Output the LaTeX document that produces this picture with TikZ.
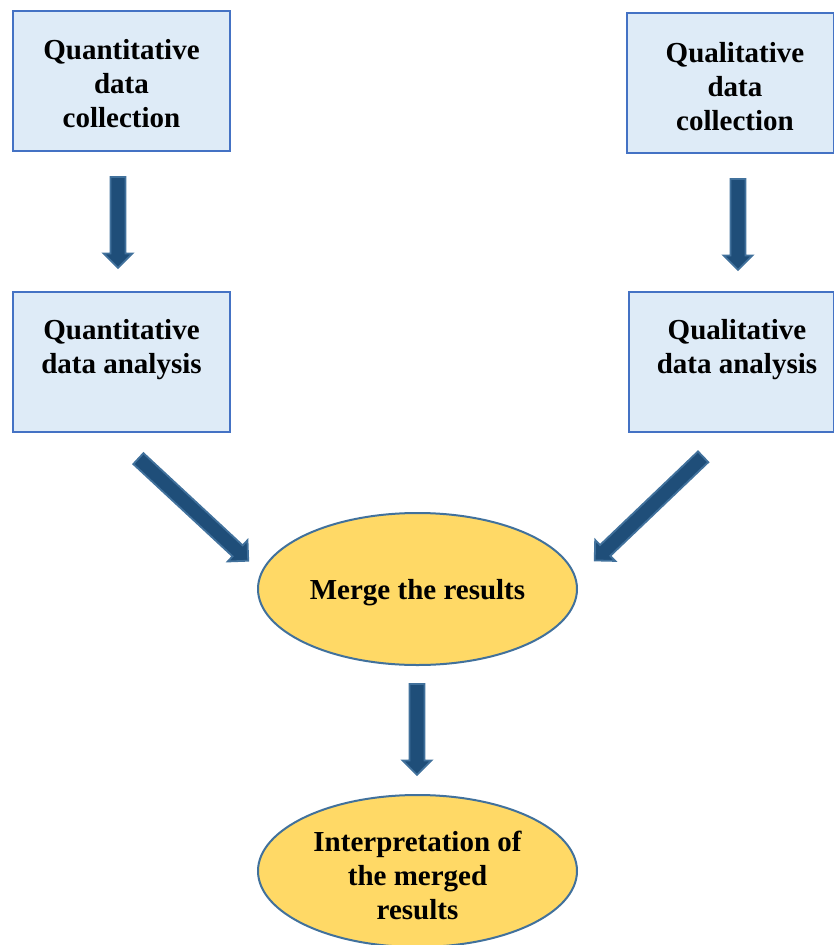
\documentclass[tikz,border=0pt]{standalone}
\usepackage{fontspec}
\setmainfont{Liberation Serif}
\usetikzlibrary{shapes.geometric,shapes.arrows,calc}
\definecolor{boxfill}{HTML}{DEEBF7}
\definecolor{boxline}{HTML}{4472C4}
\definecolor{ellfill}{HTML}{FFD966}
\definecolor{ellline}{HTML}{41719C}
\definecolor{arrfill}{HTML}{1F4E79}
\definecolor{arrline}{HTML}{41719C}
\tikzset{
  boxnode/.style={draw=boxline, fill=boxfill, line width=1.8pt, minimum width=217pt, minimum height=140pt, inner sep=0pt},
  ellnode/.style={ellipse, draw=ellline, fill=ellfill, line width=2pt, minimum width=319pt, minimum height=152pt, inner sep=0pt},
  txt/.style={align=center, font=\fontsize{29}{34}\selectfont\bfseries, inner sep=0pt},
  blockarrow/.style={single arrow, draw=arrline, fill=arrfill, line width=1.8pt, inner sep=6.5pt, minimum width=29pt, single arrow head extend=7pt, single arrow tip angle=90, anchor=tail},
}
\begin{document}
\begin{tikzpicture}[x=1pt,y=-1pt]
\useasboundingbox (0,0) rectangle (834,945);
% boxes
\node[boxnode] (b1) at (121.5,81) {};
\node[txt] (t1) at (121.5,84) {Quantitative\\data\\collection};
\node[boxnode, minimum width=207pt] (b2) at (730.5,83) {};
\node[txt] (t2) at (735,87) {Qualitative\\data\\collection};
\node[boxnode] (b3) at (121.5,362) {};
\node[txt] (t3) at (121.5,350) {Quantitative\\data analysis};
\node[boxnode, minimum width=205pt] (b4) at (731.5,362) {};
\node[txt] (t4) at (737,350) {Qualitative\\data analysis};
% ellipses
\node[ellnode] (e1) at (417.5,589) {};
\node[txt] (t5) at (417.5,593) {Merge the results};
\node[ellnode] (e2) at (417.5,871) {};
\node[txt] (t6) at (417.5,875) {Interpretation of\\the merged\\results};
% arrows
\coordinate (a1s) at (118,176);
\coordinate (a2s) at (738,178);
\coordinate (a3s) at (137.7,458);
\coordinate (a4s) at (703.8,456.2);
\coordinate (a5s) at (417,683);
\node[blockarrow, rotate=-90, minimum height=91pt] (a1) at (a1s) {};
\node[blockarrow, rotate=-90, minimum height=91pt] (a2) at (a2s) {};
\node[blockarrow, rotate=-42.9, minimum height=150pt] (a3) at (a3s) {};
\node[blockarrow, rotate=-136.3, minimum height=150pt] (a4) at (a4s) {};
\node[blockarrow, rotate=-90, minimum height=91pt] (a5) at (a5s) {};
\end{tikzpicture}
\end{document}
